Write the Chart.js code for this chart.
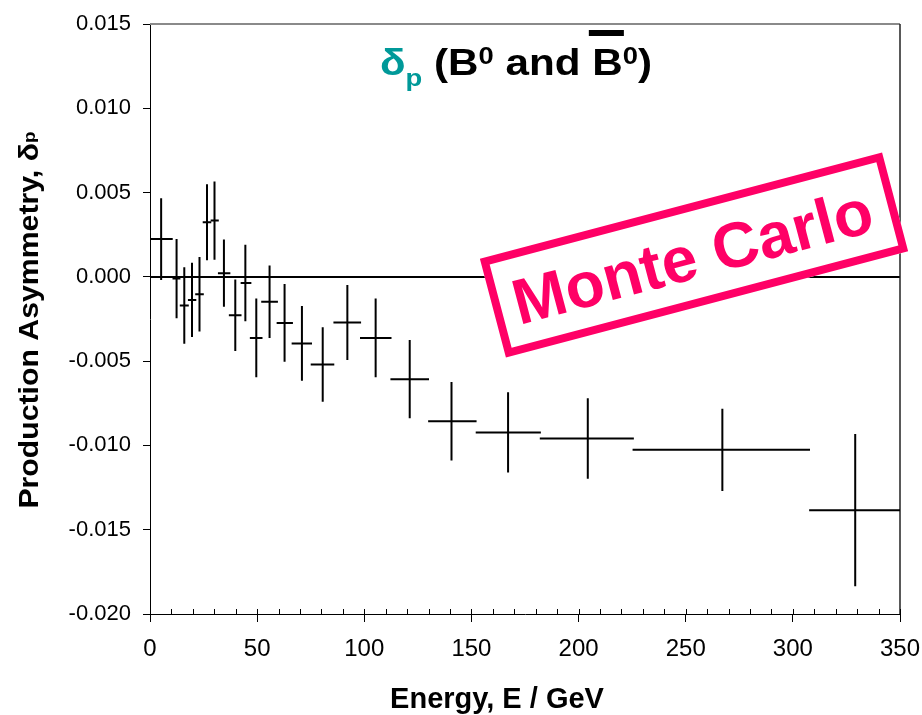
<!DOCTYPE html>
<html>
<head>
<meta charset="utf-8">
<script src="https://cdn.jsdelivr.net/npm/chart.js@4.4.1/dist/chart.umd.min.js"></script>
<style>
  html, body { margin: 0; padding: 0; background: #fff; }
  #wrap { width: 922px; height: 715px; }
</style>
</head>
<body>
<div id="wrap"><canvas id="asymChart" width="922" height="715"></canvas></div>
<script>
// bin centres and edges (GeV)
const energy  = [5.2, 12.4, 16.0, 19.6, 23.1, 26.6, 30.1, 34.5, 39.8, 44.5, 49.6, 55.8, 62.8, 70.9, 80.6, 92.1, 105.3, 121.2, 140.7, 167.1, 204.3, 267.1, 329.1];
const eLow    = [0.2, 10.5, 13.9, 17.7, 21.1, 24.6, 28.3, 31.7, 36.8, 42.3, 46.6, 51.9, 59.1, 66.1, 75.0, 85.6, 98.0, 112.2, 129.8, 152.0, 181.9, 225.2, 307.6];
const eHigh   = [10.6, 14.2, 18.1, 21.6, 25.1, 28.6, 32.1, 37.5, 42.7, 47.3, 52.5, 59.7, 66.7, 75.6, 86.0, 98.5, 112.7, 130.2, 152.4, 182.4, 225.8, 308.0, 350.0];
// production asymmetry and its error
const asym    = [0.00224, -0.00010, -0.00170, -0.00137, -0.00103, 0.00324, 0.00334, 0.00022, -0.00228, -0.00036, -0.00362, -0.00148, -0.00273, -0.00395, -0.00520, -0.00271, -0.00362, -0.00607, -0.00856, -0.00923, -0.00959, -0.01026, -0.01384];
const asymErr = [0.00243, 0.00235, 0.00227, 0.00220, 0.00221, 0.00225, 0.00232, 0.00200, 0.00212, 0.00227, 0.00233, 0.00215, 0.00231, 0.00222, 0.00221, 0.00222, 0.00233, 0.00232, 0.00233, 0.00238, 0.00239, 0.00244, 0.00452];

const xTicks = [0, 50, 100, 150, 200, 250, 300, 350];
const yTicks = [0.015, 0.010, 0.005, 0.000, -0.005, -0.010, -0.015, -0.020];

const points = energy.map((e, i) => ({ x: e, y: asym[i] }));

// error crosses, zero line, frame and minor ticks
const crossPlugin = {
    id: 'crosses',
    beforeDatasetsDraw(chart) {
        const { ctx, chartArea: a, scales: { x, y } } = chart;
        ctx.save();
        // zero line
        ctx.strokeStyle = '#000';
        ctx.lineWidth = 2;
        const y0 = Math.round(y.getPixelForValue(0));
        ctx.beginPath();
        ctx.moveTo(a.left, y0);
        ctx.lineTo(a.right, y0);
        ctx.stroke();
        // top and right frame
        ctx.lineWidth = 2;
        ctx.strokeStyle = '#8a8a8a';
        ctx.beginPath();
        ctx.moveTo(a.left, a.top);
        ctx.lineTo(a.right, a.top);
        ctx.stroke();
        ctx.lineWidth = 1.5;
        ctx.strokeStyle = '#222';
        ctx.beginPath();
        ctx.moveTo(a.right, a.top);
        ctx.lineTo(a.right, a.bottom);
        ctx.stroke();
        // minor ticks on the energy axis (inside)
        ctx.lineWidth = 1;
        ctx.strokeStyle = '#000';
        for (let v = 0; v <= 350; v += 10) {
            const px = Math.round(x.getPixelForValue(v)) + 0.5;
            ctx.beginPath();
            ctx.moveTo(px, a.bottom);
            ctx.lineTo(px, a.bottom - 5);
            ctx.stroke();
        }
        ctx.restore();
    },
    afterDatasetsDraw(chart) {
        const { ctx, scales: { x, y } } = chart;
        ctx.save();
        ctx.strokeStyle = '#000';
        ctx.lineWidth = 2;
        energy.forEach((e, i) => {
            const px = x.getPixelForValue(e);
            const py = y.getPixelForValue(asym[i]);
            ctx.beginPath();
            ctx.moveTo(x.getPixelForValue(eLow[i]), py);
            ctx.lineTo(x.getPixelForValue(eHigh[i]), py);
            ctx.moveTo(px, y.getPixelForValue(asym[i] + asymErr[i]));
            ctx.lineTo(px, y.getPixelForValue(asym[i] - asymErr[i]));
            ctx.stroke();
        });
        ctx.restore();
    }
};

// titles and the "Monte Carlo" stamp
const textPlugin = {
    id: 'texts',
    afterDraw(chart) {
        const { ctx } = chart;
        ctx.save();
        ctx.textBaseline = 'alphabetic';
        ctx.textAlign = 'left';

        // main title, fitted to the reference width
        const teal = '#009999';
        const big = 'bold 37px "Liberation Sans"';
        const small = 'bold 24px "Liberation Sans"';
        const runs = [
            { t: 'δ', f: big, c: teal, dy: 0 },
            { t: 'p', f: small, c: teal, dy: 11 },
            { t: ' (B', f: big, c: '#000', dy: 0 },
            { t: '0', f: small, c: '#000', dy: -11 },
            { t: ' and ', f: big, c: '#000', dy: 0 },
            { t: 'B', f: big, c: '#000', dy: 0, bar: true },
            { t: '0', f: small, c: '#000', dy: -11 },
            { t: ')', f: big, c: '#000', dy: 0 }
        ];
        let total = 0;
        runs.forEach(r => { ctx.font = r.f; r.w = ctx.measureText(r.t).width; total += r.w; });
        ctx.save();
        ctx.translate(380, 75);
        ctx.scale(272 / total, 1);
        let tx = 0;
        runs.forEach(r => {
            ctx.font = r.f;
            ctx.fillStyle = r.c;
            ctx.fillText(r.t, tx, r.dy);
            if (r.bar) ctx.fillRect(tx - 3, -45, r.w + 4, 6);
            tx += r.w;
        });
        ctx.restore();

        // y axis title
        ctx.save();
        ctx.translate(38, 320);
        ctx.rotate(-Math.PI / 2);
        ctx.scale(1.12, 1);
        ctx.fillStyle = '#000';
        const yMain = 'Production Asymmetry, δ';
        ctx.font = 'bold 27px "Liberation Sans"';
        const w1 = ctx.measureText(yMain).width;
        ctx.font = 'bold 17px "Liberation Sans"';
        const w2 = ctx.measureText('p').width;
        const start = -(w1 + w2) / 2;
        ctx.font = 'bold 27px "Liberation Sans"';
        ctx.fillText(yMain, start, 0);
        ctx.font = 'bold 17px "Liberation Sans"';
        ctx.fillText('p', start + w1, -3);
        ctx.restore();

        // x axis title
        ctx.fillStyle = '#000';
        ctx.font = 'bold 29px "Liberation Sans"';
        ctx.textAlign = 'center';
        ctx.fillText('Energy, E / GeV', 497, 708);

        // stamp
        ctx.save();
        ctx.translate(694, 255);
        ctx.rotate(-14.8 * Math.PI / 180);
        ctx.fillStyle = '#fff';
        ctx.fillRect(-208, -51, 416, 102);
        ctx.strokeStyle = '#ff0066';
        ctx.lineWidth = 8;
        ctx.strokeRect(-204, -47, 408, 94);
        ctx.fillStyle = '#ff0066';
        ctx.font = 'bold 64px "Liberation Sans"';
        ctx.textAlign = 'center';
        ctx.fillText('Monte Carlo', -2, 23);
        ctx.restore();

        ctx.restore();
    }
};

const ctx = document.getElementById('asymChart').getContext('2d');
new Chart(ctx, {
    type: 'scatter',
    data: {
        datasets: [{
            label: 'Production asymmetry',
            data: points,
            pointRadius: 0,
            showLine: false
        }]
    },
    options: {
        responsive: false,
        animation: false,
        devicePixelRatio: 1,
        layout: { padding: { top: 24, right: 22, left: 0, bottom: 0 } },
        plugins: {
            legend: { display: false },
            tooltip: { enabled: false },
            title: { display: false }
        },
        scales: {
            x: {
                type: 'linear',
                min: 0,
                max: 350,
                afterFit: s => { s.height = 101; s.paddingLeft = 0; s.paddingRight = 0; },
                afterBuildTicks: s => { s.ticks = xTicks.map(v => ({ value: v })); },
                ticks: {
                    color: '#000',
                    padding: 13,
                    font: { family: '"Liberation Sans"', size: 24 },
                    maxRotation: 0,
                    callback: v => String(v)
                },
                grid: { drawOnChartArea: false, drawTicks: true, tickLength: 8, color: '#000' },
                border: { display: true, color: '#000', width: 1 }
            },
            y: {
                type: 'linear',
                min: -0.02,
                max: 0.015,
                afterFit: s => { s.width = 150; s.paddingTop = 0; s.paddingBottom = 0; },
                afterBuildTicks: s => { s.ticks = yTicks.map(v => ({ value: v })); },
                ticks: {
                    color: '#000',
                    padding: 12,
                    font: { family: '"Liberation Sans"', size: 22 },
                    callback: v => v.toFixed(3)
                },
                grid: { drawOnChartArea: false, drawTicks: true, tickLength: 7, color: '#000' },
                border: { display: true, color: '#000', width: 1 }
            }
        }
    },
    plugins: [crossPlugin, textPlugin]
});
</script>
</body>
</html>
